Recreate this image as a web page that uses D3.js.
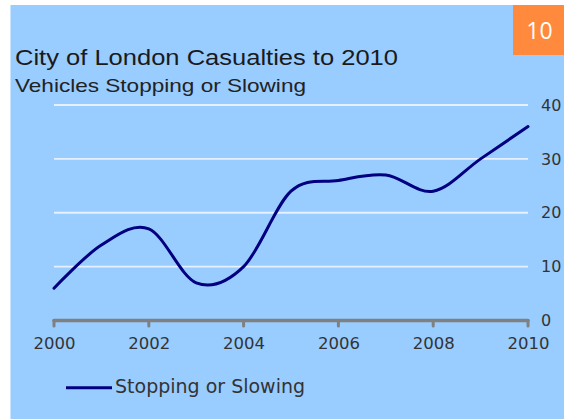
<!DOCTYPE html>
<html>
<head>
<meta charset="utf-8">
<script src="https://cdn.jsdelivr.net/npm/d3@7"></script>
<style>
  html, body { margin: 0; padding: 0; background: #ffffff; }
  svg { display: block; }
</style>
</head>
<body>
<svg id="chart" width="564" height="419"></svg>
<script>
// Casualties from vehicles stopping or slowing, City of London
const years = [2000, 2001, 2002, 2003, 2004, 2005, 2006, 2007, 2008, 2009, 2010];
const casualties = [6, 14, 17, 7, 10, 24, 26, 27, 24, 30, 36];
const xTicks = [2000, 2002, 2004, 2006, 2008, 2010];
const yTicks = [0, 10, 20, 30, 40];
const gridValues = [10, 20, 30, 40];
const titleText = "City of London Casualties to 2010";
const subtitleText = "Vehicles Stopping or Slowing";
const seriesName = "Stopping or Slowing";
const badgeText = "10";

const svg = d3.select("#chart");
const W = 564, H = 419;

// panel background
svg.append("rect")
  .attr("x", 10.5).attr("y", 5)
  .attr("width", W - 10.5).attr("height", H - 5)
  .attr("fill", "#99ccff");

// page number badge
svg.append("rect")
  .attr("x", 513).attr("y", 5)
  .attr("width", W - 513).attr("height", 50)
  .attr("fill", "#ff8a3d");
svg.append("text")
  .attr("x", 539.5).attr("y", 39)
  .attr("text-anchor", "middle")
  .attr("fill", "#ffffff")
  .style("font-family", "'Open Sans', sans-serif")
  .style("font-size", "23px")
  .text(badgeText);

// titles
svg.append("text")
  .attr("x", 15).attr("y", 64.5)
  .attr("fill", "#1a1a1a")
  .attr("textLength", 383)
  .attr("lengthAdjust", "spacingAndGlyphs")
  .style("font-family", "'Liberation Sans', Arial, sans-serif")
  .style("font-size", "22px")
  .text(titleText);
svg.append("text")
  .attr("x", 15).attr("y", 91.7)
  .attr("fill", "#222222")
  .attr("textLength", 291)
  .attr("lengthAdjust", "spacingAndGlyphs")
  .style("font-family", "'Liberation Sans', Arial, sans-serif")
  .style("font-size", "18.5px")
  .text(subtitleText);

// scales
const x = d3.scaleLinear().domain([2000, 2010]).range([54, 528]);
const y = d3.scaleLinear().domain([0, 40]).range([320.5, 105]);

// horizontal gridlines
svg.append("g")
  .selectAll("line")
  .data(gridValues)
  .join("line")
  .attr("x1", x(2000)).attr("x2", x(2010))
  .attr("y1", d => y(d)).attr("y2", d => y(d))
  .attr("stroke", "#e6f1fd")
  .attr("stroke-width", 1.8);

// right-hand value axis (labels only)
const yAxis = d3.axisRight(y).tickValues(yTicks).tickSize(0).tickPadding(0);
const gy = svg.append("g")
  .attr("transform", "translate(541,0)")
  .call(yAxis);
gy.select(".domain").remove();
gy.selectAll("text")
  .attr("fill", "#333333")
  .style("font-family", "'DejaVu Sans', Verdana, sans-serif")
  .style("font-size", "16px");

// bottom axis: thick grey baseline with downward ticks
const axisG = svg.append("g");
axisG.append("line")
  .attr("x1", x(2000)).attr("x2", x(2010))
  .attr("y1", y(0)).attr("y2", y(0))
  .attr("stroke", "#808080")
  .attr("stroke-width", 3.5)
  .attr("stroke-linecap", "round");
axisG.selectAll("line.tick")
  .data(xTicks)
  .join("line")
  .attr("class", "tick")
  .attr("x1", d => x(d)).attr("x2", d => x(d))
  .attr("y1", y(0)).attr("y2", y(0) + 5.5)
  .attr("stroke", "#808080")
  .attr("stroke-width", 3)
  .attr("stroke-linecap", "round");

const xAxis = d3.axisBottom(x).tickValues(xTicks).tickFormat(d3.format("d")).tickSize(0).tickPadding(0);
const gx = svg.append("g")
  .attr("transform", "translate(0,337)")
  .call(xAxis);
gx.select(".domain").remove();
gx.selectAll("text")
  .attr("fill", "#333333")
  .attr("dy", "0.75em")
  .style("font-family", "'DejaVu Sans', Verdana, sans-serif")
  .style("font-size", "16.5px");

// smoothed series line
const line = d3.line()
  .x((d, i) => x(years[i]))
  .y(d => y(d))
  .curve(d3.curveCardinal.tension(0));
svg.append("path")
  .datum(casualties)
  .attr("d", line)
  .attr("fill", "none")
  .attr("stroke", "#000080")
  .attr("stroke-width", 3)
  .attr("stroke-linejoin", "round")
  .attr("stroke-linecap", "round");

// legend
svg.append("line")
  .attr("x1", 66).attr("x2", 112)
  .attr("y1", 387.7).attr("y2", 387.7)
  .attr("stroke", "#000080")
  .attr("stroke-width", 3);
svg.append("text")
  .attr("x", 115).attr("y", 393.3)
  .attr("fill", "#333333")
  .style("font-family", "'DejaVu Sans', Verdana, sans-serif")
  .style("font-size", "19px")
  .text(seriesName);
</script>
</body>
</html>
